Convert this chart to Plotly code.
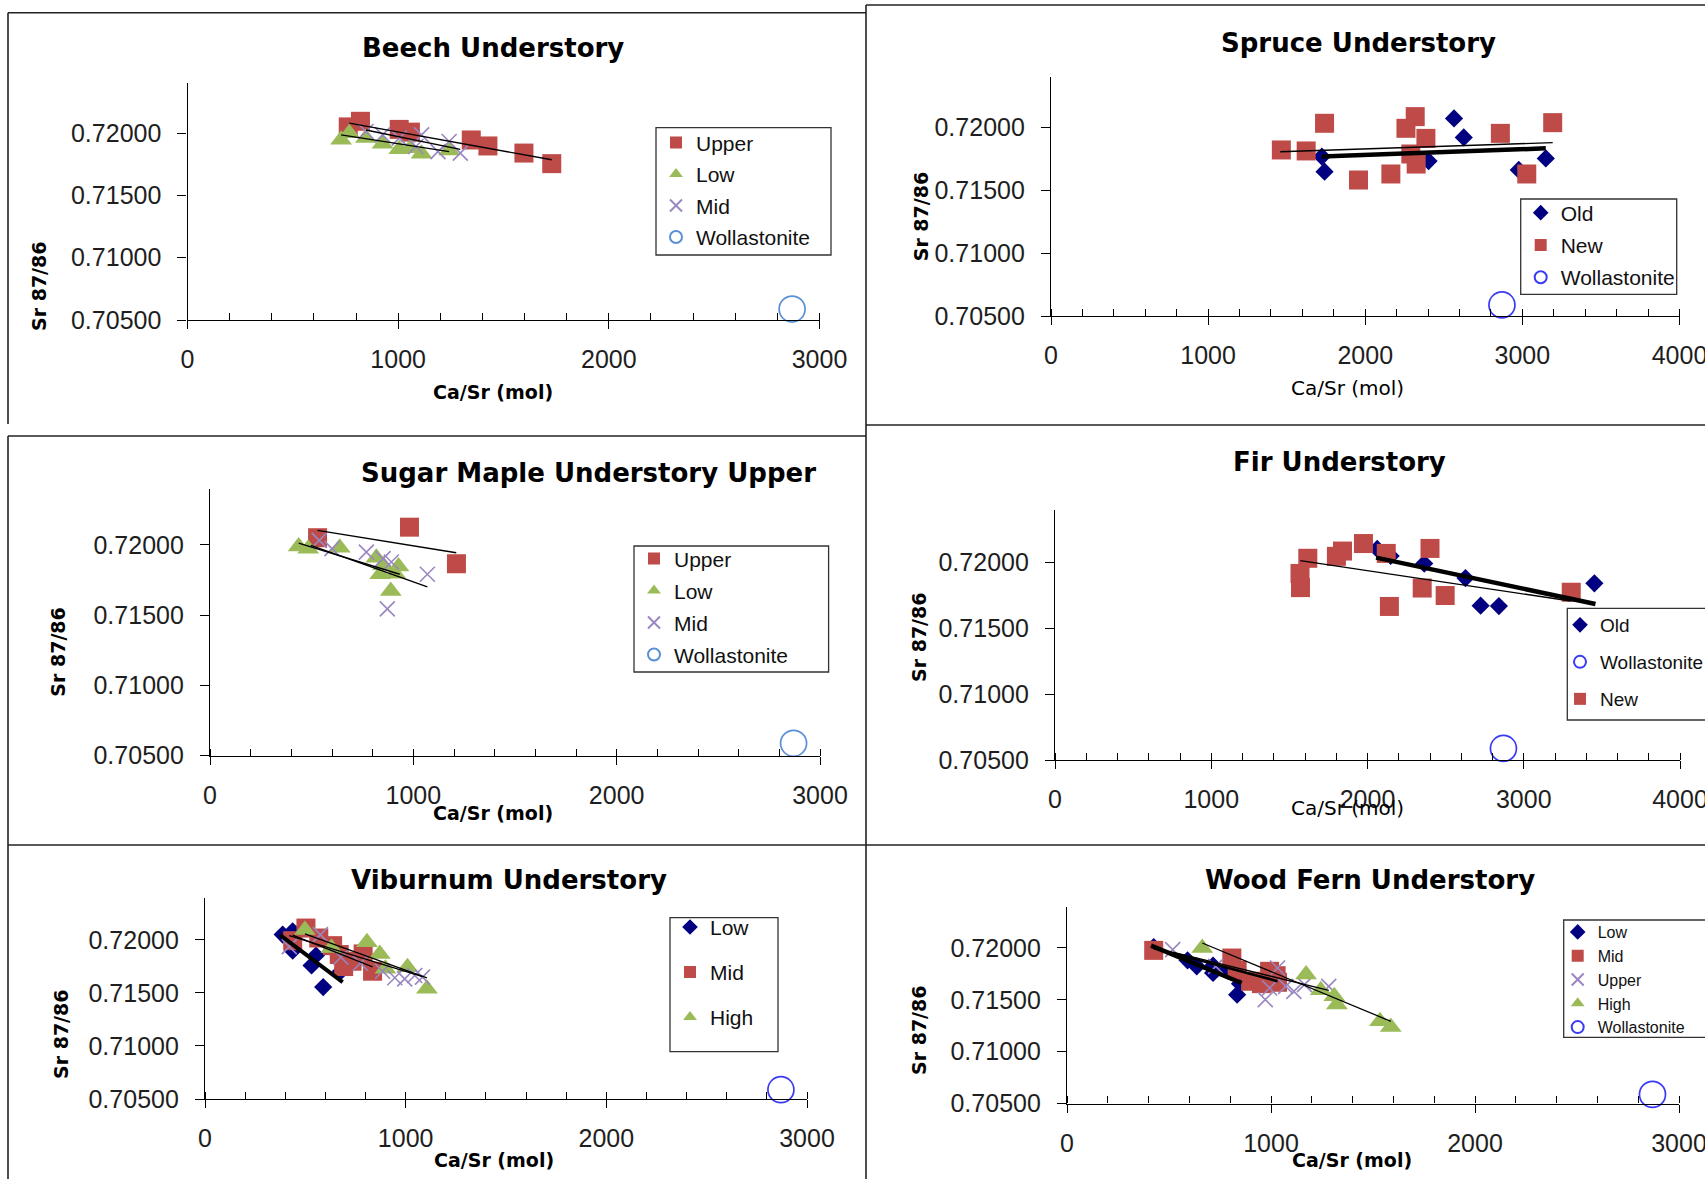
import plotly.graph_objects as go

W, H = 1705, 1179

RED = '#be4b48'
GREEN = '#9bbb59'
PURPLE = '#9a86c0'
NAVY = '#000080'
BLUE = '#3a3af5'
LBLUE = '#5b8fd6'

# ---------------- data: Beech Understory ----------------
beech_upper_x = [763, 821, 1005, 1058, 1347, 1426, 1597, 1729]
beech_upper_y = [0.72050, 0.72095, 0.72030, 0.72008, 0.71945, 0.71897, 0.71840, 0.71755]
beech_low_x = [729, 768, 847, 926, 1005, 1058, 1111, 1242]
beech_low_y = [0.71946, 0.72000, 0.71960, 0.71914, 0.71871, 0.71879, 0.71834, 0.71861]
beech_mid_x = [847, 926, 1005, 1084, 1111, 1189, 1242, 1295]
beech_mid_y = [0.72013, 0.71986, 0.71960, 0.71893, 0.71986, 0.71852, 0.71933, 0.71839]
beech_upper_fit_x = [768, 1729]
beech_upper_fit_y = [0.72080, 0.71786]
beech_low_fit_x = [729, 1242]
beech_low_fit_y = [0.71986, 0.71852]
beech_mid_fit_x = [847, 1295]
beech_mid_fit_y = [0.72025, 0.71870]

# ---------------- data: Spruce Understory ----------------
spruce_old_x = [1724, 1741, 2403, 2565, 2627, 2977, 3149]
spruce_old_y = [0.71767, 0.71647, 0.71732, 0.72071, 0.71920, 0.71661, 0.71753]
spruce_new_x = [1466, 1624, 1741, 1957, 2163, 2259, 2318, 2290, 2324, 2386, 2860, 3028, 3193]
spruce_new_y = [0.71820, 0.71812, 0.72032, 0.71581, 0.71629, 0.71992, 0.72085,
                0.71788, 0.71708, 0.71912, 0.71952, 0.71629, 0.72037]
spruce_old_fit_x = [1724, 3149]
spruce_old_fit_y = [0.71767, 0.71833]
spruce_new_fit_x = [1459, 3193]
spruce_new_fit_y = [0.71806, 0.71878]

# ---------------- data: Sugar Maple Understory Upper ----------------
sm_upper_x = [529, 981, 1212]
sm_upper_y = [0.72050, 0.72125, 0.71865]
sm_low_x = [436, 483, 638, 818, 851, 837, 911, 927, 889]
sm_low_y = [0.71988, 0.71972, 0.71979, 0.71908, 0.71854, 0.71790, 0.71794, 0.71846, 0.71671]
sm_mid_x = [537, 600, 769, 851, 892, 1069, 872]
sm_mid_y = [0.72031, 0.71972, 0.71948, 0.71901, 0.71877, 0.71790, 0.71544]
sm_upper_fit_x = [529, 1211]
sm_upper_fit_y = [0.72102, 0.71943]
sm_low_fit_x = [436, 933]
sm_low_fit_y = [0.72012, 0.71790]
sm_mid_fit_x = [496, 1069]
sm_mid_fit_y = [0.71996, 0.71700]

# ---------------- data: Fir Understory ----------------
fir_old_x = [2062, 2148, 2363, 2627, 2724, 2841, 3452]
fir_old_y = [0.72104, 0.72051, 0.71993, 0.71883, 0.71673, 0.71670, 0.71843]
fir_new_x = [1568, 1571, 1618, 1801, 1840, 1974, 2120, 2140, 2350, 2400, 2497, 3304]
fir_new_y = [0.71918, 0.71810, 0.72033, 0.72048, 0.72088, 0.72145, 0.72070,
             0.71667, 0.71807, 0.72108, 0.71750, 0.71775]
fir_old_fit_x = [2055, 3459]
fir_old_fit_y = [0.72038, 0.71686]
fir_new_fit_x = [1570, 3300]
fir_new_fit_y = [0.72015, 0.71708]

# ---------------- data: Viburnum Understory ----------------
vib_low_x = [387, 437, 437, 531, 553, 589, 677]
vib_low_y = [0.72050, 0.72081, 0.71899, 0.71759, 0.71853, 0.71555, 0.71705]
vib_mid_x = [437, 503, 567, 636, 669, 733, 788, 835, 691]
vib_mid_y = [0.71993, 0.72112, 0.72018, 0.71946, 0.71862, 0.71799, 0.71868, 0.71705, 0.71749]
vib_high_x = [498, 630, 807, 871, 1009, 1106, 899]
vib_high_y = [0.72094, 0.71924, 0.71978, 0.71868, 0.71743, 0.71540, 0.71727]
vib_upper_x = [420, 575, 677, 774, 885, 946, 995, 1045, 1084]
vib_upper_y = [0.71937, 0.72050, 0.71837, 0.71780, 0.71705, 0.71643, 0.71633, 0.71665, 0.71649]
vib_low_fit_x = [373, 686]
vib_low_fit_y = [0.72047, 0.71602]
vib_mid_fit_x = [437, 835]
vib_mid_fit_y = [0.72045, 0.71745]
vib_high_fit_x = [498, 1106]
vib_high_fit_y = [0.72056, 0.71643]
vib_upper_fit_x = [420, 1084]
vib_upper_fit_y = [0.72040, 0.71655]

# ---------------- data: Wood Fern Understory ----------------
wf_low_x = [425, 591, 636, 716, 716, 834, 848, 782]
wf_low_y = [0.72009, 0.71881, 0.71823, 0.71829, 0.71759, 0.71550, 0.71656, 0.71785]
wf_mid_x = [425, 808, 834, 900, 993, 1025, 953, 1032]
wf_mid_y = [0.71977, 0.71903, 0.71785, 0.71679, 0.71775, 0.71733, 0.71656, 0.71669]
wf_upper_x = [518, 729, 972, 993, 1032, 1072, 1112, 1164, 1283]
wf_upper_y = [0.71984, 0.71823, 0.71502, 0.71614, 0.71807, 0.71630, 0.71582, 0.71646, 0.71630]
wf_high_x = [663, 1172, 1244, 1310, 1323, 1534, 1587]
wf_high_y = [0.72000, 0.71743, 0.71592, 0.71534, 0.71454, 0.71293, 0.71239]
wf_low_fit_x = [412, 856]
wf_low_fit_y = [0.72022, 0.71662]
wf_mid_fit_x = [425, 1032]
wf_mid_fit_y = [0.72000, 0.71680]
wf_upper_fit_x = [518, 1283]
wf_upper_fit_y = [0.71960, 0.71590]
wf_high_fit_x = [663, 1587]
wf_high_fit_y = [0.72048, 0.71293]

# Wollastonite end-member (same in every panel)
wol_x = [2870]
wol_y = [0.70588]

# axis ticks
y_range = [0.705, 0.724]
y_dtick = 0.005
x_dtick = 1000
x_minor = 200


def px_x(p):
    return p / W


def px_y(p):
    return 1 - p / H


def marker(kind, color=None):
    if kind == 'sq':
        return dict(symbol='square', size=19, color=RED)
    if kind == 'tri':
        return dict(symbol='triangle-up', size=19, color=GREEN)
    if kind == 'x':
        return dict(symbol='x-thin', size=15, color=PURPLE, line=dict(width=1.6, color=PURPLE))
    if kind == 'dia':
        return dict(symbol='diamond', size=14, color=NAVY)
    if kind == 'circ':
        return dict(symbol='circle-open', size=26, color=color or BLUE, line=dict(width=1.7))


panels = [
    dict(dom=(187.5, 819.5, 83.3, 320), xmax=3000, title='Beech Understory', t=(492.7, 48),
         xt=(492.6, 392), xtbold=True, yt=(39, 286),
         leg=(656, 122.3), box=(656, 831, 127.7, 255), legfont=21, gap=1.2,
         series=[('Upper', beech_upper_x, beech_upper_y, 'sq', True, 1),
                 ('Low', beech_low_x, beech_low_y, 'tri', True, 2),
                 ('Mid', beech_mid_x, beech_mid_y, 'x', True, 3),
                 ('Wollastonite', wol_x, wol_y, ('circ', LBLUE), True, 4)],
         fits=[(beech_upper_fit_x, beech_upper_fit_y, 1.4),
               (beech_low_fit_x, beech_low_fit_y, 1.4),
               (beech_mid_fit_x, beech_mid_fit_y, 1.4)]),
    dict(dom=(1051, 1679.5, 77, 316), xmax=4000, title='Spruce Understory', t=(1358, 43),
         xt=(1347.5, 388), xtbold=False, yt=(920.6, 216.7),
         leg=(1520.7, 192.5), box=(1520.7, 1676.7, 199, 294.3), legfont=21, gap=2,
         series=[('Old', spruce_old_x, spruce_old_y, 'dia', True, 1),
                 ('New', spruce_new_x, spruce_new_y, 'sq', True, 2),
                 ('Wollastonite', wol_x, wol_y, ('circ', BLUE), True, 3)],
         fits=[(spruce_old_fit_x, spruce_old_fit_y, 4.5),
               (spruce_new_fit_x, spruce_new_fit_y, 1.4)]),
    dict(dom=(210, 820, 488.5, 755.7), xmax=3000, title='Sugar Maple Understory Upper', t=(588, 473),
         xt=(492.5, 813), xtbold=True, yt=(58, 651.7),
         leg=(634, 538.4), box=(634, 828.6, 546, 672), legfont=21, gap=1.7,
         series=[('Upper', sm_upper_x, sm_upper_y, 'sq', True, 1),
                 ('Low', sm_low_x, sm_low_y, 'tri', True, 2),
                 ('Mid', sm_mid_x, sm_mid_y, 'x', True, 3),
                 ('Wollastonite', wol_x, wol_y, ('circ', LBLUE), True, 4)],
         fits=[(sm_upper_fit_x, sm_upper_fit_y, 1.4),
               (sm_low_fit_x, sm_low_fit_y, 1.4),
               (sm_mid_fit_x, sm_mid_fit_y, 1.4)]),
    dict(dom=(1055, 1680, 510, 760), xmax=4000, title='Fir Understory', t=(1339, 462),
         xt=(1347.5, 808), xtbold=False, yt=(919, 637),
         leg=(1560, 606), box=(1567.3, 1730, 608.3, 720), legfont=19, gap=9.3,
         series=[('Old', fir_old_x, fir_old_y, 'dia', True, 1),
                 ('New', fir_new_x, fir_new_y, 'sq', True, 3),
                 ('Wollastonite', wol_x, wol_y, ('circ', BLUE), True, 2)],
         fits=[(fir_old_fit_x, fir_old_fit_y, 4.5),
               (fir_new_fit_x, fir_new_fit_y, 1.4)]),
    dict(dom=(205, 807, 897.5, 1099), xmax=3000, title='Viburnum Understory', t=(509, 880),
         xt=(494, 1160), xtbold=True, yt=(61, 1034),
         leg=(670, 906.8), box=(670, 778, 917.7, 1051.7), legfont=21, gap=14.7,
         series=[('Low', vib_low_x, vib_low_y, 'dia', True, 1),
                 ('Mid', vib_mid_x, vib_mid_y, 'sq', True, 2),
                 ('High', vib_high_x, vib_high_y, 'tri', True, 3),
                 ('Upper', vib_upper_x, vib_upper_y, 'x', False, 4),
                 ('Wollastonite', wol_x, wol_y, ('circ', BLUE), False, 5)],
         fits=[(vib_mid_fit_x, vib_mid_fit_y, 1.3),
               (vib_high_fit_x, vib_high_fit_y, 1.3),
               (vib_upper_fit_x, vib_upper_fit_y, 1.3),
               (vib_low_fit_x, vib_low_fit_y, 4)]),
    dict(dom=(1067, 1679, 906.5, 1103.5), xmax=3000, title='Wood Fern Understory', t=(1369.5, 880),
         xt=(1351.5, 1160), xtbold=True, yt=(919, 1030),
         leg=(1557.7, 915), box=(1563.7, 1730, 920, 1037.3), legfont=16, gap=0,
         series=[('Low', wf_low_x, wf_low_y, 'dia', True, 1),
                 ('Mid', wf_mid_x, wf_mid_y, 'sq', True, 2),
                 ('Upper', wf_upper_x, wf_upper_y, 'x', True, 3),
                 ('High', wf_high_x, wf_high_y, 'tri', True, 4),
                 ('Wollastonite', wol_x, wol_y, ('circ', BLUE), True, 5)],
         fits=[(wf_upper_fit_x, wf_upper_fit_y, 1.3),
               (wf_high_fit_x, wf_high_fit_y, 1.3),
               (wf_mid_fit_x, wf_mid_fit_y, 2.6),
               (wf_low_fit_x, wf_low_fit_y, 4.5)]),
]

TICKFONT = dict(family='Liberation Sans, Arial, sans-serif', size=25, color='#1e1e1e')
fig = go.Figure()
layout = dict(width=W, height=H, autosize=False,
              margin=dict(l=0, r=0, t=0, b=0, pad=0, autoexpand=False),
              paper_bgcolor='white', plot_bgcolor='white', annotations=[], shapes=[])

for i, p in enumerate(panels, start=1):
    sfx = '' if i == 1 else str(i)
    xref, yref = 'x' + sfx, 'y' + sfx
    legname = 'legend' + sfx
    x0, x1, yt, yb = p['dom']
    layout['xaxis' + sfx] = dict(
        domain=[px_x(x0), px_x(x1)], range=[0, p['xmax']], anchor=yref, automargin=False,
        showline=True, linecolor='black', linewidth=1.3, showgrid=False, zeroline=False,
        ticks='outside', ticklen=8, tickwidth=1.2, tickcolor='black', dtick=x_dtick, tick0=0,
        minor=dict(dtick=x_minor, ticks='inside', ticklen=7, tickwidth=1.1, tickcolor='black', showgrid=False),
        tickfont=TICKFONT, ticklabelstandoff=9, ticklabeloverflow='allow', fixedrange=True)
    layout['yaxis' + sfx] = dict(
        domain=[px_y(yb), px_y(yt)], range=y_range, anchor=xref, automargin=False,
        showline=True, linecolor='black', linewidth=1.3, showgrid=False, zeroline=False,
        ticks='outside', ticklen=9, tickwidth=1.2, tickcolor='black', dtick=y_dtick, tick0=0.705,
        tickformat='.5f', tickfont=TICKFONT, ticklabelstandoff=11, ticklabeloverflow='allow',
        fixedrange=True)
    lx, ly = p['leg']
    layout[legname] = dict(
        x=px_x(lx), y=px_y(ly), xanchor='left', yanchor='top', xref='paper', yref='paper',
        bgcolor='rgba(0,0,0,0)', borderwidth=0,
        font=dict(family='Liberation Sans, Arial, sans-serif', size=p['legfont'], color='#111111'),
        tracegroupgap=p['gap'], itemsizing='constant', itemwidth=30)
    bx0, bx1, by0, by1 = p['box']
    layout['shapes'].append(dict(type='rect', xref='paper', yref='paper', layer='above',
                                 x0=px_x(bx0), x1=px_x(bx1), y0=px_y(by1), y1=px_y(by0),
                                 fillcolor='white', line=dict(color='#333333', width=1.3)))

    for name, xs, ys, kind, show, rank in p['series']:
        if isinstance(kind, tuple):
            mk = marker(kind[0], kind[1])
        else:
            mk = marker(kind)
        fig.add_trace(go.Scatter(
            x=xs, y=ys, mode='markers', name=name, marker=mk, xaxis=xref, yaxis=yref,
            legend=legname, legendgroup=f'p{i}_{name}', legendrank=rank, showlegend=show,
            cliponaxis=False))
    for fx, fy, lw in p['fits']:
        fig.add_trace(go.Scatter(
            x=fx, y=fy, mode='lines', line=dict(color='black', width=lw), xaxis=xref, yaxis=yref,
            showlegend=False, hoverinfo='skip'))

    tx, ty = p['t']
    layout['annotations'].append(dict(
        text='<b>' + p['title'] + '</b>', x=px_x(tx), y=px_y(ty), xref='paper', yref='paper',
        xanchor='center', yanchor='middle', showarrow=False,
        font=dict(family='DejaVu Sans, sans-serif', size=26, color='black')))
    xtx, xty = p['xt']
    xt_text = '<b>Ca/Sr (mol)</b>' if p['xtbold'] else 'Ca/Sr (mol)'
    layout['annotations'].append(dict(
        text=xt_text, x=px_x(xtx), y=px_y(xty), xref='paper', yref='paper',
        xanchor='center', yanchor='middle', showarrow=False,
        font=dict(family='DejaVu Sans, sans-serif', size=19 if p['xtbold'] else 20, color='black')))
    ytx, yty = p['yt']
    layout['annotations'].append(dict(
        text='<b>Sr 87/86</b>', x=px_x(ytx), y=px_y(yty), xref='paper', yref='paper',
        xanchor='center', yanchor='middle', showarrow=False, textangle=-90,
        font=dict(family='DejaVu Sans, sans-serif', size=19, color='black')))

# panel frames
frames = [
    (8, 12.7, 8, 424), (8, 12.7, 866, 12.7), (866, 5, 866, 1179), (866, 5, 1705, 5),
    (866, 425, 1705, 425), (8, 436, 866, 436), (8, 436, 8, 1179), (8, 845, 1705, 845),
]
for a, b, c, d in frames:
    layout['shapes'].append(dict(type='line', xref='paper', yref='paper',
                                 x0=px_x(a), y0=px_y(b), x1=px_x(c), y1=px_y(d),
                                 line=dict(color='#222222', width=1.6)))

fig.update_layout(**layout)
fig.write_html("out.html", config={'displayModeBar': False},
               post_script="document.body.style.margin='0';document.body.style.overflow='hidden';")
